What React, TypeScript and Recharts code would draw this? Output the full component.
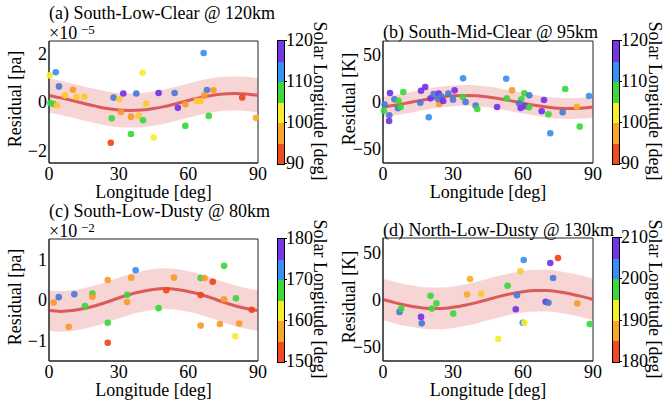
import React from "react";
import { ComposedChart, Scatter, Line, Area, XAxis, YAxis, ReferenceArea } from "recharts";

const FONT = "'Liberation Serif', 'Times New Roman', serif";

const fitLon = [0, 5, 10, 15, 20, 25, 30, 35, 40, 45, 50, 55, 60, 65, 70, 75, 80, 85, 90];
const fitA = [0.27, 0.17, 0.06, -0.06, -0.17, -0.27, -0.33, -0.35, -0.33, -0.27, -0.18, -0.06, 0.06, 0.18, 0.27, 0.33, 0.35, 0.33, 0.27];
const fitB = [-5.4, -3.5, -1.2, 1.2, 3.5, 5.4, 6.6, 7, 6.6, 5.4, 3.5, 1.2, -1.2, -3.5, -5.4, -6.6, -7, -6.6, -5.4];
const fitC = [-0.26, -0.28, -0.26, -0.21, -0.14, -0.05, 0.05, 0.14, 0.21, 0.26, 0.28, 0.26, 0.21, 0.14, 0.05, -0.05, -0.14, -0.21, -0.26];
const fitD = [0, -3.3, -6.1, -8.2, -9.4, -9.4, -8.2, -6.1, -3.3, 0, 3.3, 6.1, 8.2, 9.4, 9.4, 8.2, 6.1, 3.3, 0];

// [longitude, residual, solar longitude]
const pointsA = [
  [0.3, 1.09, 103.5], [2.9, 1.22, 111], [4.3, 0.64, 114], [10.3, 0.5, 96], [6.9, 0.27, 101],
  [11.8, 0.2, 101], [15.2, 0.22, 101], [0.6, -0.04, 107], [2.0, -0.08, 107], [3.4, -0.14, 101],
  [27.8, 0.18, 114], [30.3, 0.11, 101], [32.0, 0.35, 118], [37.6, 0.35, 114], [47.2, 0.37, 118],
  [40.3, 1.2, 103.5], [41.9, -0.07, 101], [31.0, -0.41, 97], [35.3, -0.6, 97], [38.6, -0.56, 101],
  [27.0, -0.67, 107], [40.5, -0.75, 107], [35.3, -1.31, 107], [45.1, -1.46, 103.5], [26.6, -1.67, 91],
  [66.6, 2.01, 111], [54.1, 0.37, 114], [68.0, 0.49, 114], [70.8, 0.48, 97], [66.9, 0.27, 97],
  [63.6, 0.04, 101], [65.3, 0.05, 101], [58.7, -0.09, 97], [55.5, -0.24, 118], [83.2, 0.18, 91],
  [68.8, -0.57, 107], [58.7, -0.98, 107], [89.1, -0.65, 98],
];
const pointsB = [
  [0.7, -2.8, 114], [0.4, -9.2, 107], [3.0, 9.6, 118], [4.9, 2.8, 114], [6.6, 1.4, 107],
  [8.7, 10.6, 107], [6.4, -6.7, 114], [7.6, -5.3, 107], [2.7, -14.2, 114], [2.6, -20.2, 118],
  [16.3, 12.0, 118], [18.1, 16.0, 118], [16.0, -0.7, 114], [19.6, -16.3, 111], [20.4, 3.9, 118],
  [21.7, 8.5, 114], [23.9, 8.9, 118], [24.9, 6.0, 114], [24.1, -2.1, 97], [23.6, 3.2, 114],
  [25.8, 1.1, 118], [28.0, 8.9, 114], [30.7, 12.4, 118], [30.0, 2.5, 114], [34.3, 25.2, 111],
  [34.2, 5.3, 107], [35.4, 0.0, 114], [39.7, -3.9, 114], [40.4, -7.4, 107], [48.9, -5.3, 118],
  [52.8, 24.8, 111], [55.3, 12.4, 97], [53.1, 3.9, 107], [60.6, 9.2, 107], [62.7, 7.1, 114],
  [59.3, 2.8, 107], [58.3, -1.4, 114], [59.0, -6.4, 118], [60.9, -4.6, 118], [62.6, -5.7, 107],
  [69.0, 2.1, 118], [68.0, -9.9, 118], [70.9, -13.1, 107], [71.7, -33.3, 111], [77.0, -11.0, 114],
  [78.1, 13.8, 107], [83.1, -5.0, 98], [84.3, -26.2, 107], [88.3, 6.4, 111],
];
const pointsC = [
  [2.0, -0.06, 157], [4.2, 0.07, 174], [10.9, 0.14, 174], [8.5, -0.66, 157], [15.5, -0.15, 167],
  [18.7, 0.16, 167], [18.7, 0.08, 157], [25.3, 0.49, 157], [25.3, -0.56, 167], [25.3, -1.05, 151],
  [35.4, 0.55, 157], [37.3, 0.73, 171], [33.7, 0.13, 167], [33.6, -0.05, 157], [47.2, -0.2, 167],
  [50.5, 0.24, 151], [53.8, 0.55, 157], [65.3, 0.54, 167], [67.0, 0.54, 157], [70.5, 0.45, 151],
  [65.3, 0.12, 151], [65.3, -0.63, 157], [75.4, 0.84, 167], [75.4, 0.02, 157], [73.6, -0.59, 157],
  [80.5, 0.04, 167], [80.2, -0.89, 163.5], [81.9, -0.58, 157], [87.3, -0.24, 151],
];
const pointsD = [
  [7.1, -13.1, 204], [7.8, -9.6, 197], [16.3, -18.4, 208], [16.6, -25.2, 204], [20.4, 3.9, 197],
  [20.9, -9.6, 197], [22.9, -3.9, 197], [30.1, -14.9, 197], [36.0, 5.3, 189], [37.3, 21.6, 188],
  [42.1, 6.0, 190], [49.4, -41.8, 193.5], [53.4, 14.6, 197], [57.4, 4.6, 204], [56.9, -10.3, 208],
  [58.9, 29.8, 191], [60.3, 41.8, 201], [59.9, -24.5, 201], [60.6, -24.5, 193.5], [69.7, -2.5, 208],
  [70.9, -3.5, 204], [71.7, 38.6, 208], [72.9, 22.7, 204], [75.0, 43.9, 181], [83.3, -4.3, 187],
  [88.6, -25.9, 197],
];

const xTicks = [0, 30, 60, 90];
const barColors = ["#f04a22", "#f8a62a", "#f5ee2a", "#3bd83b", "#3a90f2", "#7636e8"];
const pointColors = [
  "#f2441d", "#f46a22", "#f89a28", "#f9ad2a", "#fbc92f", "#f8ee2a",
  "#3bd83b", "#3fcf4f", "#3a90f2", "#4a78d8", "#7b3be6", "#7332e8",
];

const panels = [
  {
    x: 0, y: 0, top: 41, right: 72, yw: 49, xh: 37, domain: [-2.5, 2.5], yTicks: [-2, 0, 2],
    fit: fitA, sigma: 0.7, points: pointsA, lsLo: 90, cbTicks: [90, 100, 110, 120],
    title: "(a) South-Low-Clear @ 120km", titleY: 13, ylabel: "Residual [pa]", exp: "\u22125",
  },
  {
    x: 330, y: 0, top: 41, right: 67, yw: 53, xh: 37, domain: [-65, 65], yTicks: [-50, 0, 50],
    fit: fitB, sigma: 11, points: pointsB, lsLo: 90, cbTicks: [90, 100, 110, 120],
    title: "(b) South-Mid-Clear @ 95km", titleY: 32, ylabel: "Residual [K]",
  },
  {
    x: 0, y: 200, top: 39, right: 72, yw: 49, xh: 39, domain: [-1.5, 1.5], yTicks: [-1, 0, 1],
    fit: fitC, sigma: 0.5, points: pointsC, lsLo: 150, cbTicks: [150, 160, 170, 180],
    title: "(c) South-Low-Dusty @ 80km", titleY: 11, ylabel: "Residual [pa]", exp: "\u22122",
  },
  {
    x: 330, y: 200, top: 38, right: 67, yw: 53, xh: 39, domain: [-65, 65], yTicks: [-50, 0, 50],
    fit: fitD, sigma: 22, points: pointsD, lsLo: 180, cbTicks: [180, 190, 200, 210],
    title: "(d) North-Low-Dusty @ 130km", titleY: 30, ylabel: "Residual [K]",
  },
];

const fmt = (v: number) => (v < 0 ? "\u2212" + Math.abs(v) : String(v));

function Txt({ x, y, children, rot = 0, center = false, size = 18, lh = 1 }: any) {
  const tf = rot
    ? `translate(-50%, -50%) rotate(${rot}deg)`
    : center ? "translate(-50%, -50%)" : "translateY(-50%)";
  return (
    <div style={{ position: "absolute", left: x, top: y, transform: tf, fontSize: size, lineHeight: lh, whiteSpace: "nowrap" }}>
      {children}
    </div>
  );
}

function Panel({ p }: any) {
  const rows = fitLon.map((lon, i) => ({ lon, fit: p.fit[i], band: [p.fit[i] - p.sigma, p.fit[i] + p.sigma] }));
  const pts = p.points.map(([lon, val, ls]: number[]) => ({ lon, val, ls }));
  const plotL = p.yw;
  const plotR = 330 - p.right;
  const plotT = p.top;
  const plotB = 200 - p.xh;
  const cbX = plotR + 19;
  const tick = { fontSize: 18, fill: "#000", fontFamily: FONT };
  return (
    <div style={{ position: "absolute", left: p.x, top: p.y, width: 330, height: 200 }}>
      <ComposedChart width={330} height={200} data={rows} margin={{ top: p.top, right: p.right, bottom: 0, left: 0 }}>
        <XAxis dataKey="lon" type="number" domain={[0, 90]} ticks={xTicks} height={p.xh}
          tick={tick} tickLine={false} tickSize={0} tickMargin={4} stroke="#222" />
        <YAxis type="number" domain={p.domain} ticks={p.yTicks} width={p.yw} allowDataOverflow
          tick={tick} tickLine={false} tickSize={0} tickMargin={2} stroke="#222" tickFormatter={fmt} />
        <Area dataKey="band" type="monotone" stroke="none" fill="#e57373" fillOpacity={0.3} isAnimationActive={false} />
        <Line dataKey="fit" type="monotone" stroke="#dc5a5a" strokeWidth={3} dot={false} isAnimationActive={false} />
        <Scatter data={pts} dataKey="val" isAnimationActive={false}
          shape={(s: any) => {
            const idx = Math.min(11, Math.max(0, Math.floor((s.payload.ls - p.lsLo) / 2.5)));
            return <circle cx={s.cx} cy={s.cy} r={3.3} fill={pointColors[idx]} fillOpacity={0.92} />;
          }} />
        <ReferenceArea x1={0} x2={90} y1={p.domain[0]} y2={p.domain[1]} fill="none" stroke="#222" strokeOpacity={1} />
      </ComposedChart>
      <Txt x={plotL} y={p.titleY} lh={0.8}>{p.title}</Txt>
      {p.exp && <Txt x={plotL} y={plotT - 8} lh={0.8}>{"\u00d710"}</Txt>}
      {p.exp && <Txt x={plotL + 32} y={plotT - 11} size={13} lh={0.7}>{p.exp}</Txt>}
      <Txt x={plotL - 34} y={(plotT + plotB) / 2 - 3} rot={-90}>{p.ylabel}</Txt>
      <Txt x={(plotL + plotR) / 2} y={plotB + 29} center>Longitude [deg]</Txt>
      <div style={{ position: "absolute", left: cbX, top: plotT - 1, width: 6, height: plotB - plotT + 1, border: "1px solid #000", display: "flex", flexDirection: "column-reverse" }}>
        {barColors.map((c) => <div key={c} style={{ flex: 1, background: c }} />)}
      </div>
      {p.cbTicks.map((t: number, i: number) => {
        const ty = plotB - (i / 3) * (plotB - plotT + 1);
        return (
          <React.Fragment key={t}>
            <div style={{ position: "absolute", left: cbX + 8, top: ty, width: 2, height: 1, background: "#000" }} />
            <Txt x={cbX + 9} y={ty}>{t}</Txt>
          </React.Fragment>
        );
      })}
      <Txt x={cbX + 43} y={(plotT + plotB) / 2 - 1} rot={90}>Solar Longitude [deg]</Txt>
    </div>
  );
}

export default function App() {
  return (
    <div style={{ position: "absolute", left: 0, top: 0, width: 665, height: 403, background: "#fff", fontFamily: FONT, overflow: "hidden" }}>
      {panels.map((p) => <Panel key={p.title} p={p} />)}
    </div>
  );
}
